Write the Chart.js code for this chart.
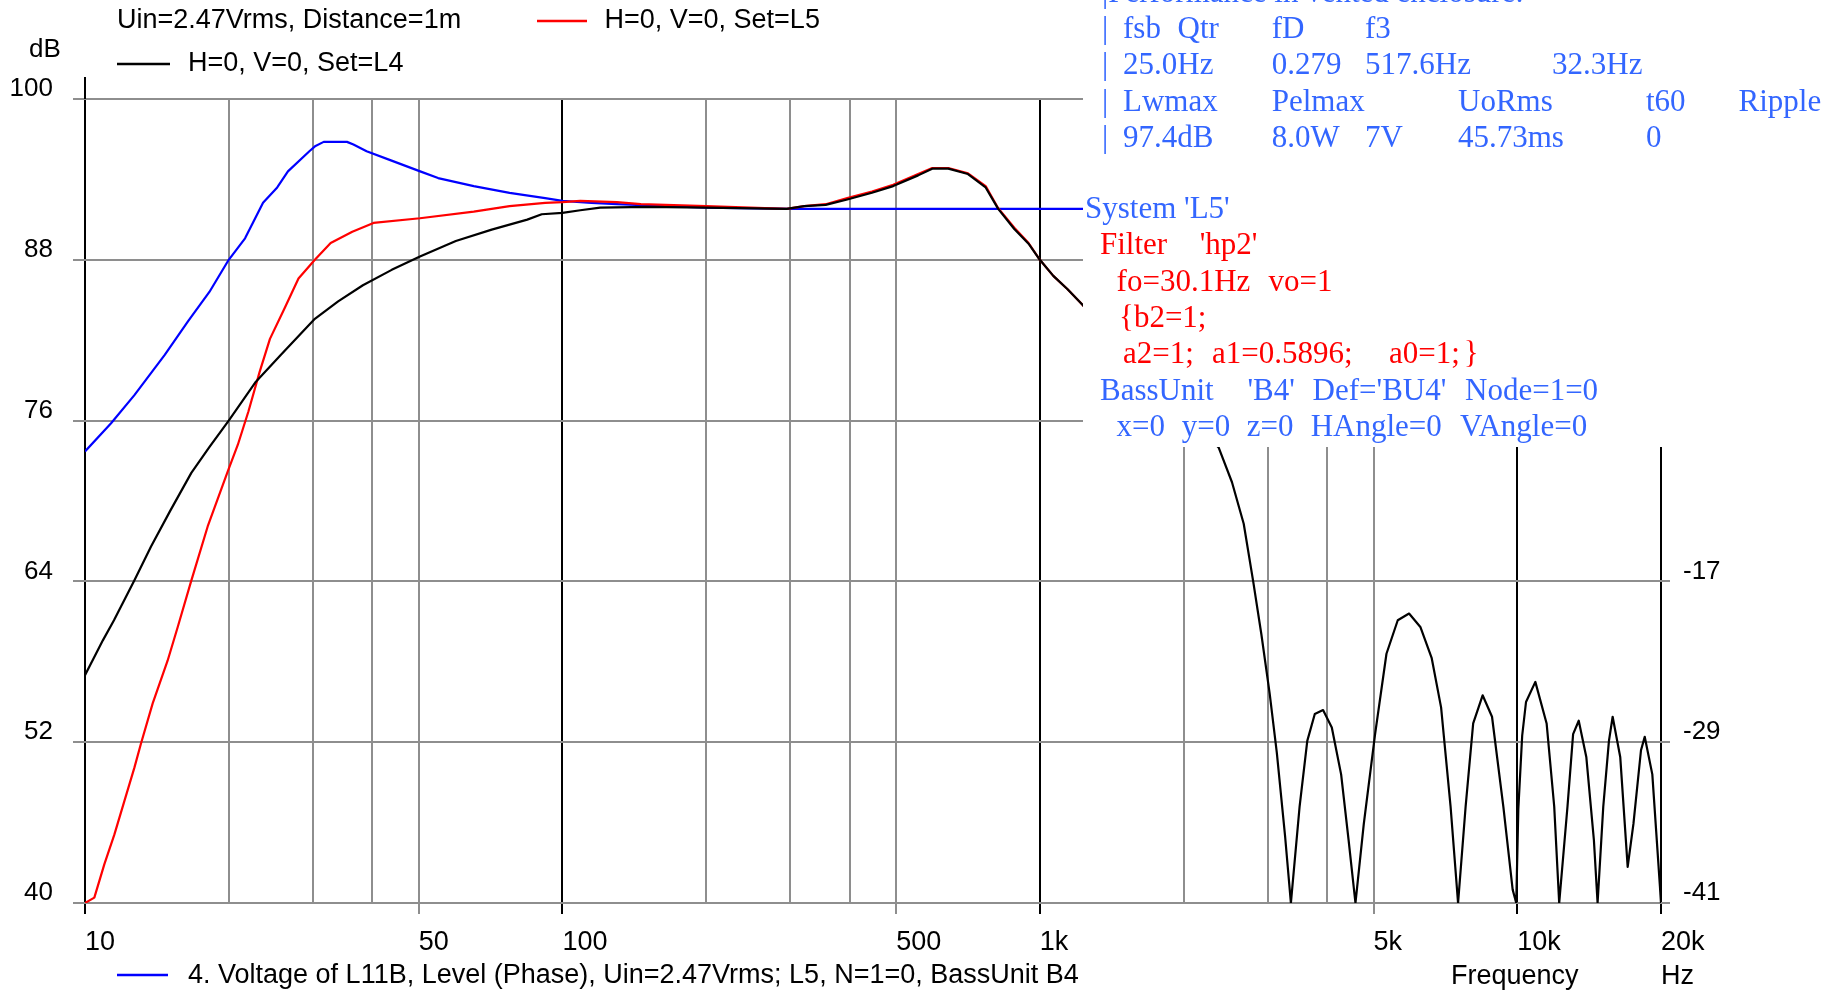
<!DOCTYPE html>
<html>
<head>
<meta charset="utf-8">
<script src="https://cdn.jsdelivr.net/npm/chart.js@4.4.1/dist/chart.umd.min.js"></script>
<style>
  html, body { margin: 0; padding: 0; background: #fff; overflow: hidden; }
  canvas { display: block; }
</style>
</head>
<body>
<canvas id="chart" width="1845" height="991"></canvas>
<script>
// Sound pressure level, set L4 (Hz / dB)
const l4Freq = [10, 10.9, 11.5, 12.7, 13.75, 15.1, 16.7, 18.2, 20, 22.8, 25.7, 30.3, 33.9, 38.2, 43.9, 50.3, 59.8, 71.1, 84.4, 90.5,
  100, 109, 120, 150, 200, 295, 321, 356, 395, 445, 493, 556, 595, 643, 707, 770, 818, 884, 947, 1000,
  1067, 1143, 1224, 1260, 2368, 2526, 2673, 2798, 2912, 3030, 3136, 3263, 3356, 3500, 3632, 3766, 3919,
  4088, 4276, 4433, 4582, 4770, 5037, 5321, 5619, 5934, 6266, 6616, 6925, 7249, 7516, 7795, 8084, 8461, 8853, 9350, 9780,
  9950, 10050, 10240, 10430, 10910, 11520, 11950, 12240, 12740, 13090, 13450, 13950, 14470, 14730, 15140, 15560, 15840, 16430, 17030, 17510,
  18160, 18490, 19180, 19900, 20000];
const l4Level = [57.0, 59.6, 61.1, 64.1, 66.6, 69.3, 72.1, 74.0, 76.0, 78.9, 80.9, 83.6, 84.9, 86.1, 87.25, 88.25, 89.4, 90.25, 91.0, 91.4,
  91.5, 91.7, 91.9, 91.95, 91.9, 91.8, 92.0, 92.1, 92.5, 93.0, 93.5, 94.3, 94.8, 94.8, 94.4, 93.4, 91.8, 90.3, 89.2, 88.0,
  86.8, 85.8, 84.7, 84.2, 74.0, 71.4, 68.3, 64.0, 60.0, 55.6, 51.2, 45.0, 40.0, 47.2, 52.1, 54.1, 54.4,
  53.1, 49.6, 44.7, 40.0, 45.9, 52.6, 58.6, 61.1, 61.6, 60.6, 58.3, 54.6, 47.2, 40.0, 47.2, 53.4, 55.5, 53.9, 47.2, 41.0,
  40.0, 47.0, 52.5, 55.0, 56.5, 53.4, 47.2, 40.0, 47.2, 52.6, 53.6, 50.9, 44.7, 40.0, 47.2, 52.1, 53.9, 50.9, 42.7, 45.9,
  51.4, 52.4, 49.6, 41.2, 40.0];

// Sound pressure level, set L5 (Hz / dB)
const l5Freq = [10, 10.46, 10.98, 11.52, 12.09, 12.69, 13.1, 13.86, 14.9, 15.64, 16.68, 18.07, 19.9, 20.9, 22.0, 23.2, 24.4, 26.2, 28.0, 30.3,
  32.7, 36.3, 40.2, 50.3, 65.2, 77.5, 92, 100, 109, 130, 146, 200, 295, 321, 356, 395, 445, 493, 556, 595,
  643, 707, 770, 818, 884, 947, 1000, 1067, 1143, 1224, 1260];
const l5Level = [40.0, 40.4, 42.9, 45.1, 47.6, 50.1, 51.9, 54.9, 58.1, 60.6, 64.0, 68.1, 72.2, 74.2, 76.7, 79.6, 82.1, 84.4, 86.6, 88.0,
  89.25, 90.1, 90.75, 91.1, 91.6, 92.0, 92.25, 92.3, 92.4, 92.3, 92.15, 92.0, 91.8, 92.0, 92.15, 92.6, 93.1, 93.6, 94.4, 94.85,
  94.85, 94.45, 93.5, 91.85, 90.4, 89.25, 88.0, 86.8, 85.8, 84.7, 84.2];

// Voltage of L11B (Hz / dB)
const voltFreq = [10, 11.34, 12.69, 14.69, 16.43, 18.22, 20.0, 21.64, 23.6, 25.27, 26.61, 29.51, 30.4, 31.62, 35.38, 36.5, 38.89, 43.87, 50.35, 54.9,
  65.2, 77.5, 92, 100, 115, 130, 200, 300, 1260];
const voltLevel = [73.7, 75.8, 77.9, 80.9, 83.4, 85.6, 88.0, 89.6, 92.25, 93.4, 94.6, 96.1, 96.5, 96.8, 96.8, 96.6, 96.1, 95.4, 94.6, 94.1,
  93.5, 93.0, 92.6, 92.4, 92.25, 92.15, 91.9, 91.8, 91.8];

// Axis ticks
const freqTicks = [10, 20, 30, 40, 50, 100, 200, 300, 400, 500, 1000, 2000, 3000, 4000, 5000, 10000, 20000];
const freqTickLabels = { 10: '10', 50: '50', 100: '100', 500: '500', 1000: '1k', 5000: '5k', 10000: '10k', 20000: '20k' };
const decadeLines = [10, 100, 1000, 10000, 20000];
const levelTicks = [40, 52, 64, 76, 88, 100];
const rightTicks = [-41, -29, -17];
const rightShift = 81;

const seriesNames = ['H=0, V=0, Set=L4', 'H=0, V=0, Set=L5',
  '4. Voltage of L11B, Level (Phase), Uin=2.47Vrms; L5, N=1=0, BassUnit B4'];

const GRID = '#8e8e8e';
const BLUE_TEXT = '#3366ff';
const SANS = '"Liberation Sans", Arial, sans-serif';
const SERIF = '"Liberation Serif", "Times New Roman", serif';

const toPoints = (f, v) => f.map((x, i) => ({ x, y: v[i] }));

// Parameter box text: [text, x, row, colour]
const boxLeft = 1083, boxBottom = 447;
const topRows = [-6.3, 30, 66.3, 102.6, 138.9];
const topText = [
  ['|Performance in vented enclosure:', 1102, 0],
  ['|', 1102, 1], ['fsb', 1123, 1], ['Qtr', 1177.6, 1], ['fD', 1271.7, 1], ['f3', 1365, 1],
  ['|', 1102, 2], ['25.0Hz', 1123, 2], ['0.279', 1271.7, 2], ['517.6Hz', 1365, 2], ['32.3Hz', 1552, 2],
  ['|', 1102, 3], ['Lwmax', 1123, 3], ['Pelmax', 1271.7, 3], ['UoRms', 1458, 3], ['t60', 1646, 3], ['Ripple', 1738.5, 3],
  ['|', 1102, 4], ['97.4dB', 1123, 4], ['8.0W', 1271.7, 4], ['7V', 1365, 4], ['45.73ms', 1458, 4], ['0', 1646, 4]
];
const sysRows = [210, 246.3, 282.6, 318.9, 355.2, 391.5, 427.8];
const sysText = [
  ["System 'L5'", 1085, 0, BLUE_TEXT],
  ['Filter', 1100, 1, '#ff0000'], ["'hp2'", 1199.7, 1, '#ff0000'],
  ['fo=30.1Hz', 1116.6, 2, '#ff0000'], ['vo=1', 1268.6, 2, '#ff0000'],
  ['{b2=1;', 1119, 3, '#ff0000'],
  ['a2=1;', 1123, 4, '#ff0000'], ['a1=0.5896;', 1212, 4, '#ff0000'], ['a0=1;', 1389, 4, '#ff0000'], ['}', 1463.7, 4, '#ff0000'],
  ['BassUnit', 1100, 5, BLUE_TEXT], ["'B4'", 1247.5, 5, BLUE_TEXT], ["Def='BU4'", 1312.6, 5, BLUE_TEXT], ['Node=1=0', 1465, 5, BLUE_TEXT],
  ['x=0', 1116.6, 6, BLUE_TEXT], ['y=0', 1181.7, 6, BLUE_TEXT], ['z=0', 1246.8, 6, BLUE_TEXT], ['HAngle=0', 1310.7, 6, BLUE_TEXT], ['VAngle=0', 1460, 6, BLUE_TEXT]
];

const overlay = {
  id: 'overlay',
  afterDatasetsDraw(chart) {
    const ctx = chart.ctx;
    ctx.save();
    ctx.fillStyle = '#ffffff';
    ctx.fillRect(boxLeft, 0, chart.width - boxLeft, boxBottom);
    ctx.restore();
  },
  afterDraw(chart) {
    const ctx = chart.ctx;
    const xs = chart.scales.x;
    const area = chart.chartArea;
    ctx.save();

    // axis line extends above the plot
    const x10 = Math.round(xs.getPixelForValue(10));
    ctx.strokeStyle = '#000';
    ctx.lineWidth = 2;
    ctx.beginPath();
    ctx.moveTo(x10, 77);
    ctx.lineTo(x10, area.top);
    ctx.stroke();

    // legend and axis captions
    ctx.fillStyle = '#000';
    ctx.textBaseline = 'middle';
    ctx.textAlign = 'left';
    ctx.font = '26px ' + SANS;
    ctx.fillText('dB', 29, 50);
    ctx.font = '27px ' + SANS;
    ctx.fillText('Uin=2.47Vrms, Distance=1m', 117, 21);
    ctx.fillText(seriesNames[1], 604.5, 21);
    ctx.fillText(seriesNames[0], 188, 64);
    ctx.fillText(seriesNames[2], 188, 976);
    ctx.fillText('Frequency', 1451, 977);
    ctx.fillText('Hz', 1661, 977);

    const legendLine = (x1, x2, y, color) => {
      ctx.strokeStyle = color;
      ctx.lineWidth = 2.5;
      ctx.beginPath();
      ctx.moveTo(x1, y);
      ctx.lineTo(x2, y);
      ctx.stroke();
    };
    legendLine(537, 587, 21, '#ff0000');
    legendLine(117, 170, 64, '#000000');
    legendLine(117, 168, 975, '#0000ff');

    // parameter box
    ctx.font = '31px ' + SERIF;
    ctx.fillStyle = BLUE_TEXT;
    topText.forEach(([t, x, r]) => ctx.fillText(t, x, topRows[r]));
    sysText.forEach(([t, x, r, c]) => {
      ctx.fillStyle = c;
      ctx.fillText(t, x, sysRows[r]);
    });
    ctx.restore();
  }
};

const freqColor = v => decadeLines.includes(v) ? '#000000' : GRID;

new Chart(document.getElementById('chart').getContext('2d'), {
  type: 'line',
  data: {
    datasets: [
      { label: seriesNames[0], data: toPoints(l4Freq, l4Level), borderColor: '#000000', borderWidth: 2.2, pointRadius: 0, order: 0 },
      { label: seriesNames[1], data: toPoints(l5Freq, l5Level), borderColor: '#ff0000', borderWidth: 2.2, pointRadius: 0, order: 1 },
      { label: seriesNames[2], data: toPoints(voltFreq, voltLevel), borderColor: '#0000ff', borderWidth: 2.2, pointRadius: 0, order: 2 }
    ]
  },
  options: {
    responsive: false,
    animation: false,
    devicePixelRatio: 1,
    layout: { padding: { top: 99, left: 0, right: 0, bottom: 0 } },
    elements: { line: { tension: 0, borderJoinStyle: 'round', fill: false } },
    plugins: { legend: { display: false }, tooltip: { enabled: false } },
    scales: {
      x: {
        type: 'logarithmic',
        min: 10,
        max: 20000,
        position: 'bottom',
        afterBuildTicks: s => { s.ticks = freqTicks.map(v => ({ value: v })); },
        afterFit: s => { s.height = 88; },
        border: { display: false },
        grid: {
          color: c => freqColor(c.tick ? c.tick.value : 0),
          tickColor: c => (c.tick && freqTickLabels[c.tick.value]) ? freqColor(c.tick.value) : 'rgba(0,0,0,0)',
          lineWidth: 2,
          tickLength: 11
        },
        ticks: {
          autoSkip: false,
          maxRotation: 0,
          minRotation: 0,
          align: 'start',
          padding: 12,
          color: '#000',
          font: { family: SANS, size: 27 },
          callback: v => freqTickLabels[v] || ''
        }
      },
      y: {
        min: 40,
        max: 100,
        position: 'left',
        afterBuildTicks: s => { s.ticks = levelTicks.map(v => ({ value: v })); },
        afterFit: s => { s.width = 85; },
        border: { display: false },
        grid: { color: GRID, lineWidth: 2, tickLength: 12 },
        ticks: {
          padding: 20,
          labelOffset: -10,
          color: '#000',
          font: { family: SANS, size: 26 },
          callback: v => String(v)
        }
      },
      y2: {
        min: 40 - rightShift,
        max: 100 - rightShift,
        position: 'right',
        afterBuildTicks: s => { s.ticks = rightTicks.map(v => ({ value: v })); },
        afterFit: s => { s.width = 184; },
        border: { display: false },
        grid: { drawOnChartArea: false, color: GRID, lineWidth: 2, tickLength: 9 },
        ticks: {
          padding: 13,
          labelOffset: -10,
          color: '#000',
          font: { family: SANS, size: 26 },
          callback: v => String(v)
        }
      }
    }
  },
  plugins: [overlay]
});
</script>
</body>
</html>
